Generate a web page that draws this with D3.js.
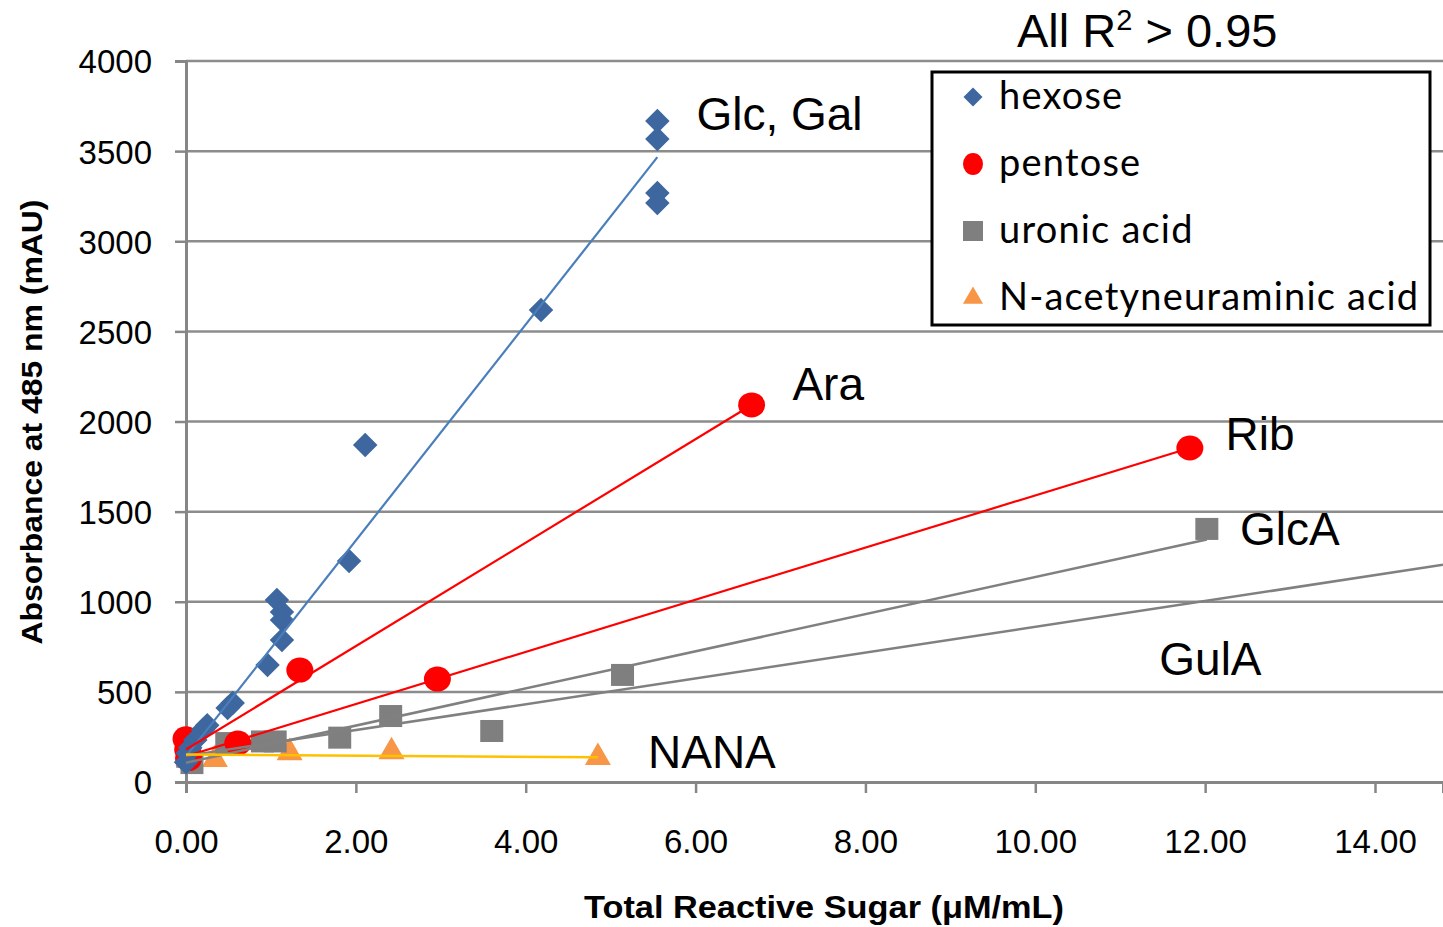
<!DOCTYPE html>
<html>
<head>
<meta charset="utf-8">
<script src="https://cdn.jsdelivr.net/npm/d3@7"></script>
<style>
  body { margin: 0; background: #fff; }
  svg { display: block; }
</style>
</head>
<body>
<svg id="chart" width="1443" height="927"></svg>
<script>
// points
const hexoseX = [5.55, 5.55, 5.55, 5.55, 4.18, 2.11, 1.92, 1.07, 1.13, 1.13, 1.13, 0.96, 0.55, 0.49, 0.25, 0.2, 0.11, 0.05, 0.02, 0.0];
const hexoseY = [3667, 3567, 3268, 3212, 2619, 1870, 1226, 1010, 943, 899, 788, 649, 438, 411, 315, 290, 233, 190, 160, 110];

const pentoseX = [0.0, 0.02, 0.03, 0.61, 1.34, 2.96, 6.66, 11.82];
const pentoseY = [240, 180, 130, 216, 621, 571, 2092, 1853];

const uronicX = [0.02, 0.07, 0.48, 0.9, 1.05, 1.81, 2.41, 3.6, 5.14, 12.02];
const uronicY = [140, 105, 216, 225, 225, 246, 366, 283, 594, 1404];

const nanaX = [0.03, 0.34, 1.22, 2.42, 4.85];
const nanaY = [135, 125, 163, 168, 136];

// trend lines: name, series, slope, intercept, x from, x to
const trendNames = ['Glc, Gal', 'Ara', 'Rib', 'GlcA', 'GulA', 'NANA'];
const trendSeries = ['hexose', 'pentose', 'pentose', 'uronic', 'uronic', 'nana'];
const trendSlope = [599, 287, 144.7, 103, 71.6, -3];
const trendIntercept = [142, 180, 143, 107, 145, 152];
const trendFrom = [0, 0, 0, 0, 0, 0];
const trendTo = [5.55, 6.66, 11.82, 12.02, 15, 4.85];

const legendNames = ['hexose', 'pentose', 'uronic acid', 'N-acetyneuraminic acid'];
const xTicks = [0, 2, 4, 6, 8, 10, 12, 14];
const yTicks = [0, 500, 1000, 1500, 2000, 2500, 3000, 3500, 4000];

const W = 1443, H = 927;
const colors = {
  hexose: '#3D679E', hexoseLine: '#4A7EBB',
  pentose: '#FF0000', pentoseLine: '#FF0000',
  uronic: '#7F7F7F', uronicLine: '#808080',
  nana: '#F79646', nanaLine: '#FFC000'
};

const svg = d3.select('#chart');
svg.append('rect').attr('width', W).attr('height', H).attr('fill', '#fff');

let x = d3.scaleLinear().domain([0, 14]).range([186, 1375]);
let y = d3.scaleLinear().domain([0, 4000]).range([782, 61]);
const xMax = x.invert(W);

svg.append('clipPath').attr('id', 'plot')
  .append('rect').attr('x', 0).attr('y', 0).attr('width', W).attr('height', H);

// grid
svg.append('g').selectAll('line')
  .data(yTicks.filter(d => d > 0))
  .join('line')
  .attr('x1', x(0)).attr('x2', W)
  .attr('y1', d => y(d)).attr('y2', d => y(d))
  .attr('stroke', '#8c8c8c').attr('stroke-width', 2.5);

// axes
let yAxis = svg.append('g')
  .attr('transform', `translate(${x(0)},0)`)
  .call(d3.axisLeft(y).tickValues(yTicks).tickSize(11).tickFormat(d3.format('d')));
let xAxis = svg.append('g')
  .attr('transform', `translate(0,${y(0)})`)
  .call(d3.axisBottom(x.copy().domain([0, xMax]).range([186, W])).tickValues(xTicks).tickSize(11).tickFormat(d3.format('.2f')));

[yAxis, xAxis].forEach(a => {
  a.select('.domain').attr('stroke', '#868686').attr('stroke-width', 3);
  a.selectAll('.tick line').attr('stroke', '#868686').attr('stroke-width', 2.5);
  a.selectAll('text')
    .attr('font-family', 'Liberation Sans, Arial, sans-serif')
    .attr('font-size', 33).attr('fill', '#000');
});
yAxis.selectAll('text').attr('x', -34).attr('dy', '0.36em');
xAxis.selectAll('text').attr('dy', null).attr('y', 71);

// axis titles
svg.append('text')
  .attr('transform', 'translate(42,422) rotate(-90)')
  .attr('text-anchor', 'middle')
  .attr('font-family', 'Liberation Sans, Arial, sans-serif')
  .attr('font-weight', 'bold').attr('font-size', 30)
  .attr('textLength', 445).attr('lengthAdjust', 'spacingAndGlyphs')
  .text('Absorbance at 485 nm (mAU)');

svg.append('text')
  .attr('x', 824).attr('y', 918)
  .attr('text-anchor', 'middle')
  .attr('font-family', 'Liberation Sans, Arial, sans-serif')
  .attr('font-weight', 'bold').attr('font-size', 32)
  .attr('textLength', 480).attr('lengthAdjust', 'spacingAndGlyphs')
  .text('Total Reactive Sugar (μM/mL)');

// markers
const pts = (xs, ys) => xs.map((v, i) => ({x: v, y: ys[i]}));
let marks = svg.append('g').attr('clip-path', 'url(#plot)');

const tri = d3.symbol(d3.symbolTriangle, 293);
marks.append('g').selectAll('path')
  .data(pts(nanaX, nanaY)).join('path')
  .attr('d', tri)
  .attr('transform', d => `translate(${x(d.x)},${y(d.y)})`)
  .attr('fill', colors.nana);

marks.append('g').selectAll('rect')
  .data(pts(uronicX, uronicY)).join('rect')
  .attr('x', d => x(d.x) - 11.5).attr('y', d => y(d.y) - 11)
  .attr('width', 23).attr('height', 22)
  .attr('fill', colors.uronic);

marks.append('g').selectAll('ellipse')
  .data(pts(pentoseX, pentoseY)).join('ellipse')
  .attr('cx', d => x(d.x)).attr('cy', d => y(d.y))
  .attr('rx', 13.5).attr('ry', 12.5)
  .attr('fill', colors.pentose);

const dia = d3.symbol(d3.symbolSquare, 300);
marks.append('g').selectAll('path')
  .data(pts(hexoseX, hexoseY)).join('path')
  .attr('d', dia)
  .attr('transform', d => `translate(${x(d.x)},${y(d.y)}) rotate(45)`)
  .attr('fill', colors.hexose);

// trend lines on top
let line = d3.line().x(d => x(d[0])).y(d => y(d[1]));
marks.append('g').selectAll('path')
  .data(trendNames.map((n, i) => {
    const f = Math.min(trendTo[i], xMax);
    return {s: trendSeries[i], pts: [[trendFrom[i], trendIntercept[i] + trendSlope[i] * trendFrom[i]], [f, trendIntercept[i] + trendSlope[i] * f]]};
  }))
  .join('path')
  .attr('d', d => line(d.pts))
  .attr('fill', 'none')
  .attr('stroke', d => colors[d.s + 'Line'])
  .attr('stroke-width', d => d.s == 'hexose' || d.s == 'pentose' ? 2.2 : 2.5);

// series labels
const labelAt = [[6.01, 3617], [7.14, 2119], [12.24, 1842], [12.41, 1315], [11.46, 594], [5.44, 78]];
svg.append('g').selectAll('text')
  .data(trendNames).join('text')
  .attr('x', (d, i) => x(labelAt[i][0]))
  .attr('y', (d, i) => y(labelAt[i][1]))
  .attr('font-family', 'Liberation Sans, Arial, sans-serif')
  .attr('font-size', 46)
  .text(d => d);

let r2 = svg.append('text')
  .attr('x', 1017).attr('y', 47)
  .attr('font-family', 'Liberation Sans, Arial, sans-serif')
  .attr('font-size', 47);
r2.append('tspan').text('All R');
r2.append('tspan').attr('font-size', 29).attr('dy', -17).text('2');
r2.append('tspan').attr('dy', 17).text(' > 0.95');

// legend
let legend = svg.append('g');
legend.append('rect')
  .attr('x', 932).attr('y', 72).attr('width', 498).attr('height', 253)
  .attr('fill', '#fff').attr('stroke', '#000').attr('stroke-width', 3);

const legendRows = legend.selectAll('g.row')
  .data(legendNames).join('g')
  .attr('class', 'row')
  .attr('transform', (d, i) => `translate(973,${97 + i * 67})`);

legendRows.each(function(d, i) {
  let g = d3.select(this);
  if (i == 0) g.append('path').attr('d', d3.symbol(d3.symbolSquare, 180)()).attr('transform', 'rotate(45)').attr('fill', colors.hexose);
  if (i == 1) g.append('ellipse').attr('rx', 10).attr('ry', 11).attr('fill', colors.pentose);
  if (i == 2) g.append('rect').attr('x', -10).attr('y', -10).attr('width', 20).attr('height', 20).attr('fill', colors.uronic);
  if (i == 3) g.append('path').attr('d', d3.symbol(d3.symbolTriangle, 175)()).attr('fill', colors.nana);
  g.append('text')
    .attr('x', 26).attr('y', 12)
    .attr('font-family', 'Lato, Open Sans, sans-serif')
    .attr('font-size', 38)
    .attr('letter-spacing', 1.2)
    .text(d);
});
</script>
</body>
</html>
